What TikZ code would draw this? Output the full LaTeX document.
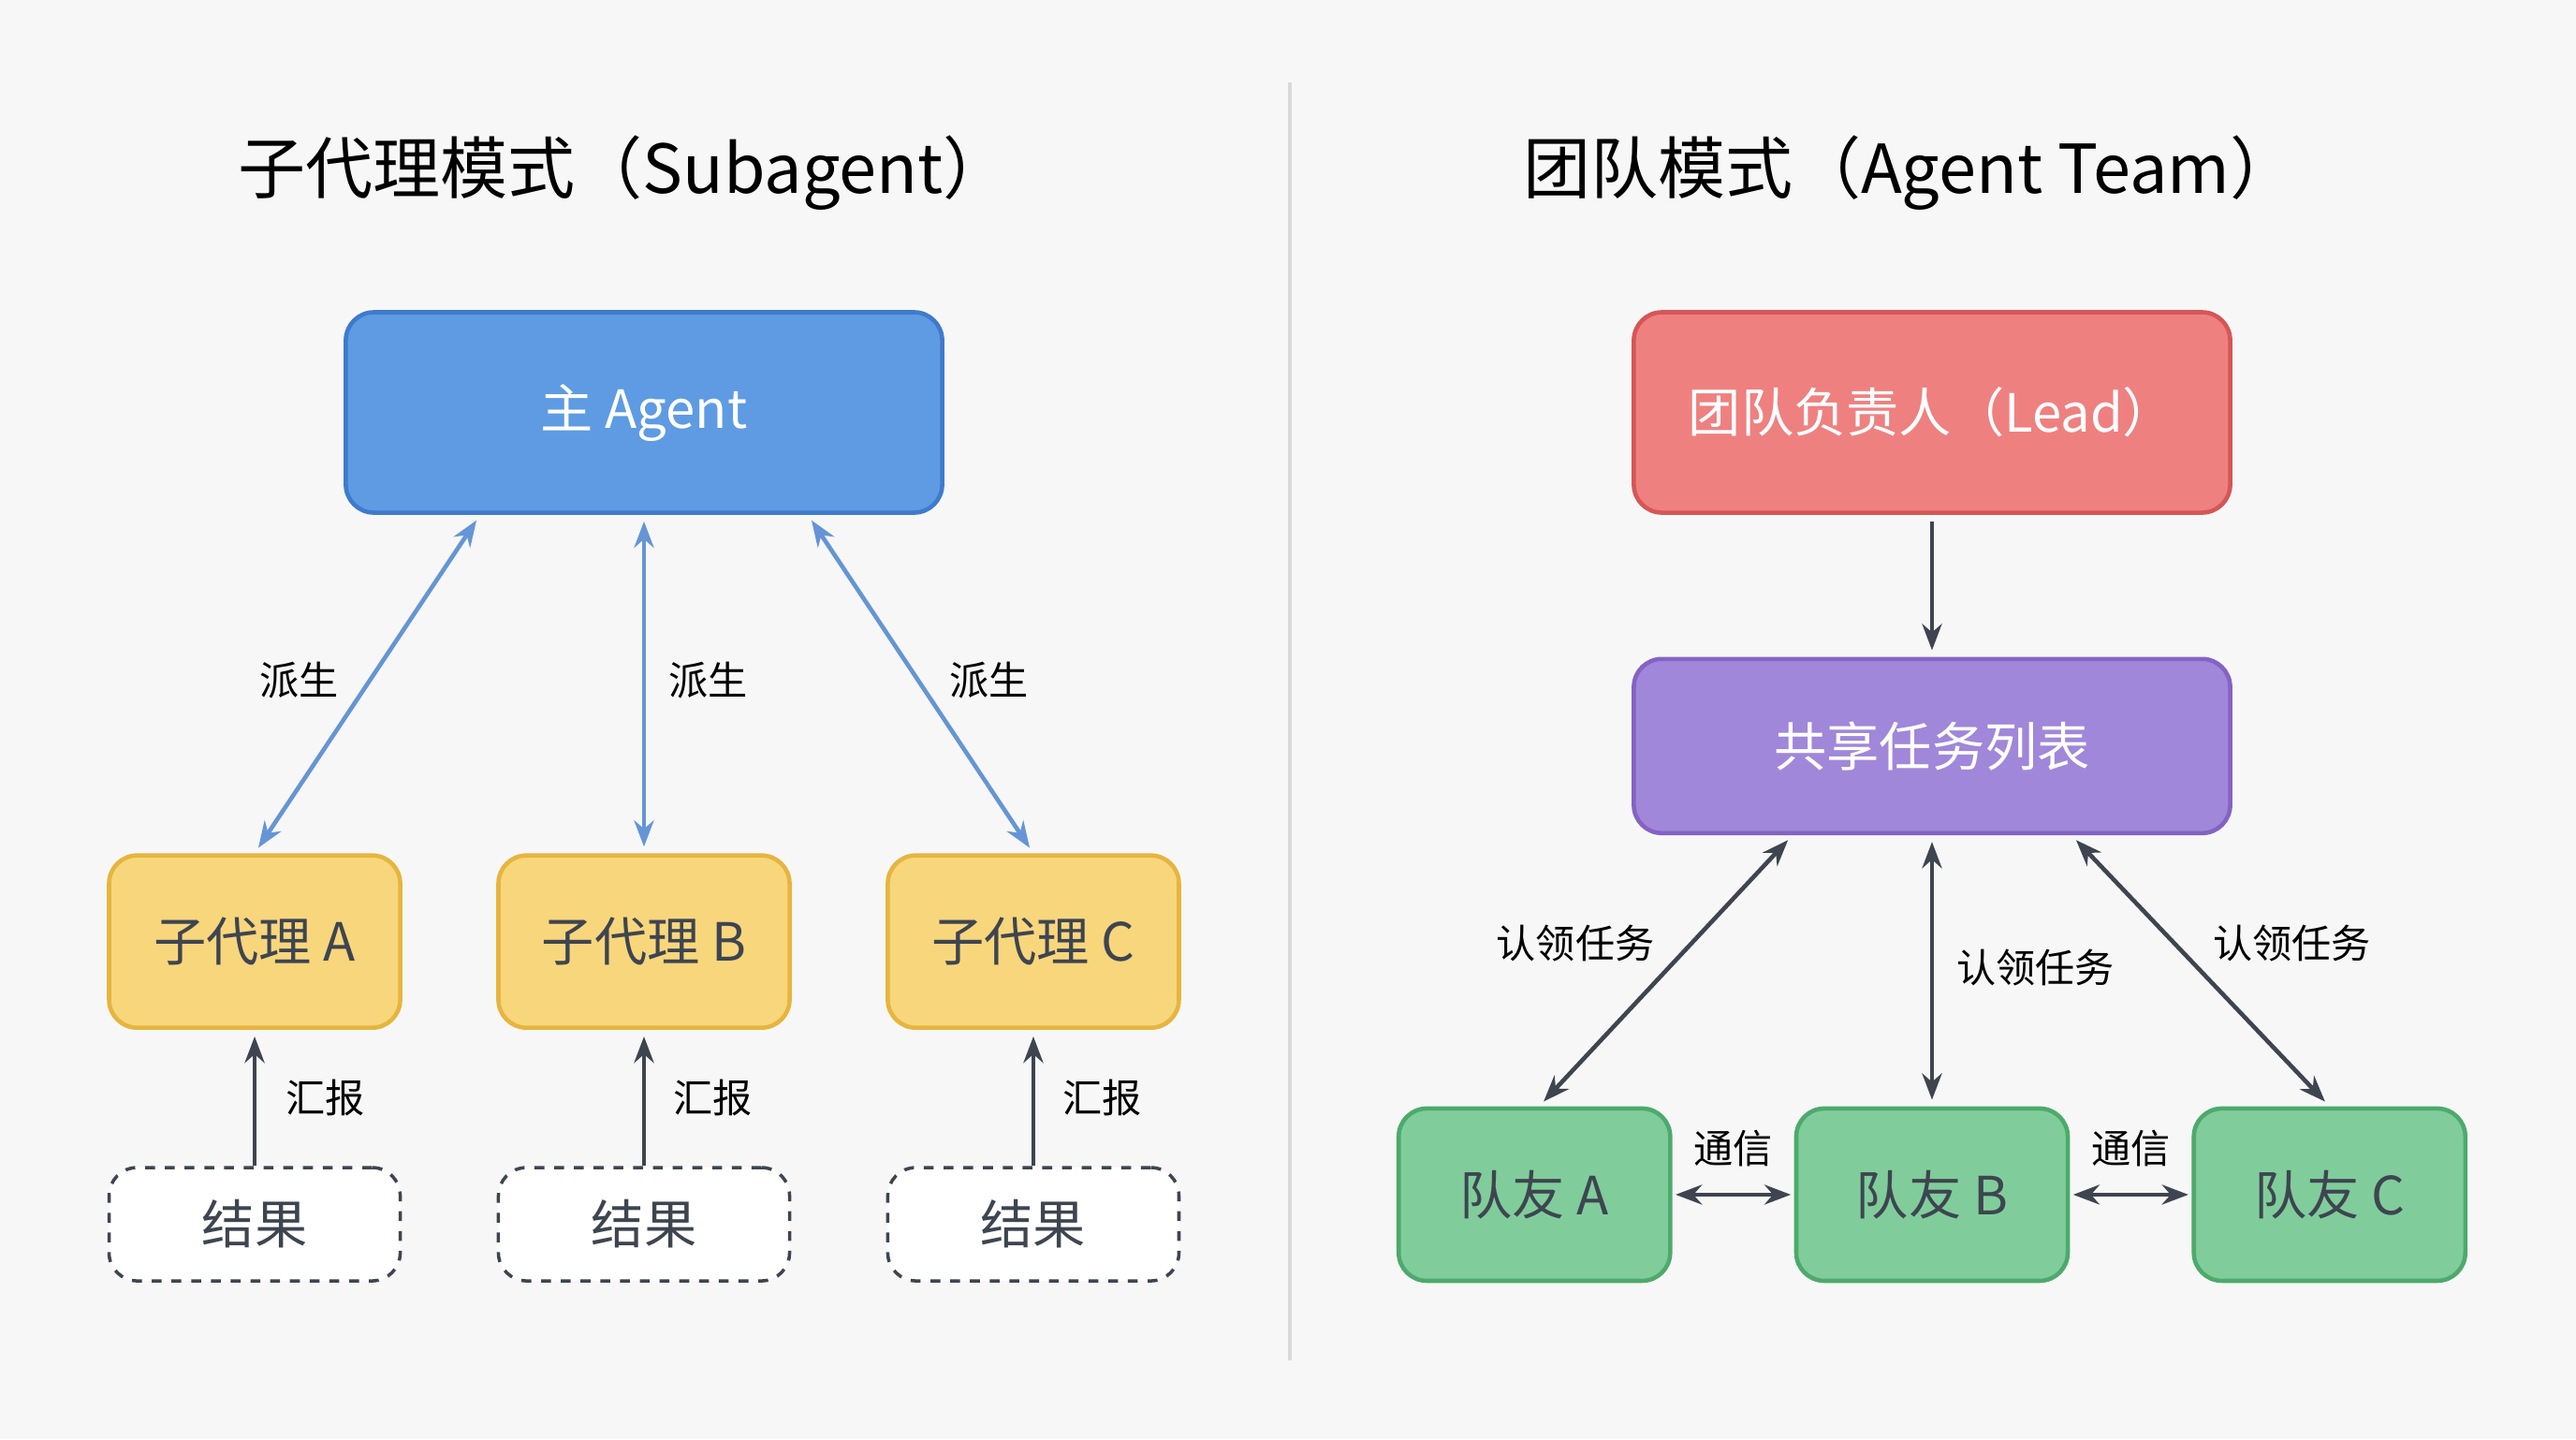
\documentclass[tikz,border=0pt]{standalone}
\usepackage{fontspec}
\setmainfont{Noto Sans CJK SC}
\usetikzlibrary{arrows.meta,positioning,calc}
\definecolor{bluefill}{HTML}{5E9BE2}
\definecolor{blueline}{HTML}{3F7ACC}
\definecolor{yelfill}{HTML}{F8D67C}
\definecolor{yelline}{HTML}{E6B53E}
\definecolor{redfill}{HTML}{EF8080}
\definecolor{redline}{HTML}{D65656}
\definecolor{purfill}{HTML}{A087D9}
\definecolor{purline}{HTML}{8463C4}
\definecolor{grnfill}{HTML}{80CD9B}
\definecolor{grnline}{HTML}{4DAA6C}
\definecolor{inkgray}{HTML}{3E4550}

\begin{document}
\begin{tikzpicture}[
    x=0.01755cm, y=-0.01755cm,
    box/.style={rectangle, rounded corners=0.3cm, line width=1.3pt, align=center, font=\fontsize{16}{18}\selectfont, text=inkgray},
    lead/.style={box, fill=bluefill, draw=blueline, text=white, minimum width=6.37cm, minimum height=2.14cm},
    sub/.style={box, fill=yelfill, draw=yelline, minimum width=3.11cm, minimum height=1.84cm},
    res/.style={box, draw=inkgray, dashed, line width=1pt, fill=white, minimum width=3.11cm, minimum height=1.21cm},
    mate/.style={box, fill=grnfill, draw=grnline, minimum width=2.9cm, minimum height=1.84cm},
    lbl/.style={font=\fontsize{12}{14}\selectfont, text=black},
    blink/.style={{Stealth[length=8pt]}-{Stealth[length=8pt]}, blueline!80!white, line width=1.3pt, shorten <=2pt, shorten >=2pt},
    glink/.style={-{Stealth[length=8pt]}, inkgray, line width=1.3pt, shorten <=2pt, shorten >=2pt},
    gboth/.style={glink, {Stealth[length=8pt]}-{Stealth[length=8pt]}}
]
\fill[white!97!black] (0,0) rectangle (1568,876);
\useasboundingbox (0,0) rectangle (1568,876);

% Divider
\draw[black!15, line width=1pt] (785,50) -- (785,828);

% Titles
\node[font=\fontsize{20.5}{24}\selectfont] (ttlL) at (380,105) {子代理模式（Subagent）};
\node[font=\fontsize{20.5}{24}\selectfont] (ttlR) at (1163,105) {团队模式（Agent Team）};

% Subagent mode
\node[lead] (main) at (392,251) {主 Agent};
\node[sub] (subA) at (155,573) {子代理 A};
\node[sub] (subB) at (392,573) {子代理 B};
\node[sub] (subC) at (629,573) {子代理 C};
\node[res] (resA) at (155,745) {结果};
\node[res] (resB) at (392,745) {结果};
\node[res] (resC) at (629,745) {结果};

\draw[blink] ([xshift=-1.75cm]main.south) -- (subA.north);
\draw[blink] (main.south) -- (subB.north);
\draw[blink] ([xshift=1.75cm]main.south) -- (subC.north);
\node[lbl] at (182,414) {派生};
\node[lbl] at (431,414) {派生};
\node[lbl] at (602,414) {派生};

\foreach \s in {A,B,C} {
  \draw[glink, shorten <=0pt] (res\s.north) -- (sub\s.south);
}
\node[lbl] at (198,668) {汇报};
\node[lbl] at (434,668) {汇报};
\node[lbl] at (671,668) {汇报};

% Team mode
\node[lead, fill=redfill, draw=redline] (head) at (1176,251) {团队负责人（Lead）};
\node[lead, fill=purfill, draw=purline, minimum height=1.86cm] (tasks) at (1176,454) {共享任务列表};
\node[mate] (mateA) at (934,727) {队友 A};
\node[mate] (mateB) at (1176,727) {队友 B};
\node[mate] (mateC) at (1418,727) {队友 C};

\draw[glink] (head) -- (tasks);
\draw[gboth] ([xshift=-1.49cm]tasks.south) -- ([xshift=0.05cm]mateA.north);
\draw[gboth] (tasks.south) -- (mateB.north);
\draw[gboth] ([xshift=1.49cm]tasks.south) -- (mateC.north);
\node[lbl] at (959,574) {认领任务};
\node[lbl] at (1239,589) {认领任务};
\node[lbl] at (1395,574) {认领任务};

\draw[gboth, shorten <=1pt, shorten >=1pt] (mateA) -- (mateB);
\draw[gboth, shorten <=1pt, shorten >=1pt] (mateB) -- (mateC);
\node[lbl] at (1055,699) {通信};
\node[lbl] at (1297,699) {通信};
\end{tikzpicture}
\end{document}
